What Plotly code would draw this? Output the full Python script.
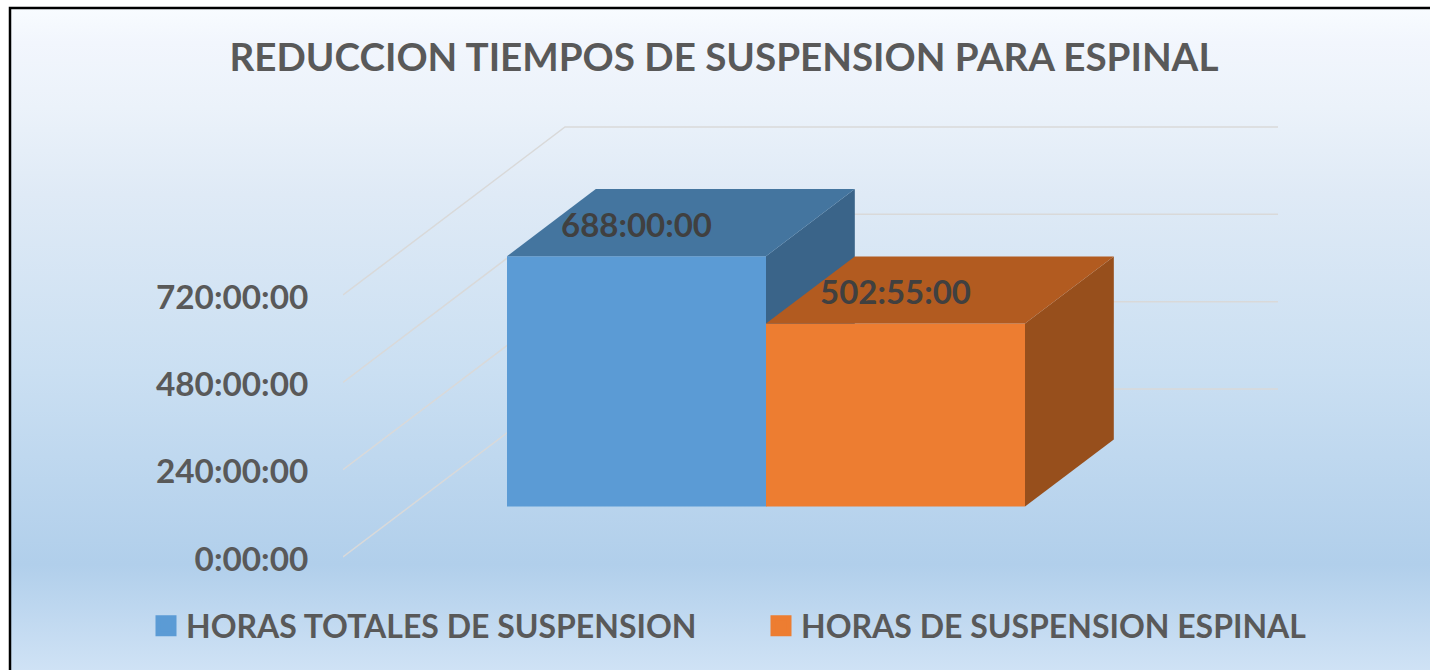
import plotly.graph_objects as go

TITLE = "REDUCCION TIEMPOS DE SUSPENSION PARA ESPINAL"
series_names = ["HORAS TOTALES DE SUSPENSION", "HORAS DE SUSPENSION ESPINAL"]
hours = [688.0, 502.9167]
value_labels = ["688:00:00", "502:55:00"]
tick_hours = [0, 240, 480, 720]
tick_labels = ["0:00:00", "240:00:00", "480:00:00", "720:00:00"]
front_colors = ["#5B9BD5", "#ED7D31"]
top_colors = ["#44759F", "#B25B20"]
side_colors = ["#3A6489", "#974F1C"]

W, H = 1430, 670
FONT = "Lato"
GREY = "#595959"

# plot-area geometry
L, R, T, B = 343, 1285, 120, 565
Y0_PX = 557
PX_PER_HOUR = 87.33 / 240
PX_PER_CAT = 259
X0_PX = 636.5
xr = [(L - X0_PX) / PX_PER_CAT, (R - X0_PX) / PX_PER_CAT]
yr = [(Y0_PX - B) / PX_PER_HOUR, (Y0_PX - T) / PX_PER_HOUR]
# oblique projection: full floor depth expressed in axis units
DEPTH_X = 222 / PX_PER_CAT
DEPTH_Y = 168 / PX_PER_HOUR
BAR_FRONT, BAR_BACK = 0.3, 0.7
WALL_X0 = xr[0]
WALL_X1 = xr[1] - 7 / PX_PER_CAT
LABEL_DROP = 6 / PX_PER_HOUR


def proj(x, v, d):
    """Oblique projection of (category position, hours, depth)."""
    return x + d * DEPTH_X, v + d * DEPTH_Y


fig = go.Figure()

# panel background, on a full-page axis pair
fig.add_trace(go.Scatter(
    x=[11, W, W, 11, 11], y=[0, 0, H - 9, H - 9, 0], xaxis="x", yaxis="y",
    mode="lines", line=dict(width=0), fill="toself", hoverinfo="skip", showlegend=False,
    fillgradient=dict(type="vertical", colorscale=[
        [0, "#CFE2F5"], [0.16, "#B1CFEB"], [0.45, "#CADFF2"],
        [0.72, "#DFEAF6"], [0.85, "#EBF2FA"], [0.95, "#F2F6FD"], [1, "#F8FCFF"]]),
))

# walls
for v in tick_hours:
    xs, ys = zip(proj(WALL_X0, v, 0), proj(WALL_X0, v, 1))
    xb, yb = proj(WALL_X1 - DEPTH_X, v, 1)
    fig.add_trace(go.Scatter(
        x=list(xs) + [xb], y=list(ys) + [yb], xaxis="x2", yaxis="y2", mode="lines",
        line=dict(color="#D9D9D9", width=1.5), hoverinfo="skip", showlegend=False,
    ))

# bars: each series on its own overlay, so the nearer bar hides the other's side
for i, (v, name) in enumerate(zip(hours, series_names)):
    xa, ya = f"x{i + 3}", f"y{i + 3}"
    base = proj(i, 0, BAR_FRONT)[1]
    fig.add_trace(go.Bar(
        x=[i], y=[v], base=[base], width=[1], xaxis=xa, yaxis=ya,
        marker=dict(color=front_colors[i], line=dict(width=0)), name=name, showlegend=False,
    ))
    x_l, x_r = i - 0.5, i + 0.5
    gap = BAR_BACK - BAR_FRONT
    dx, dy = gap * DEPTH_X, gap * DEPTH_Y
    fig.add_trace(go.Scatter(
        x=[x_r, x_r + dx, x_r + dx, x_r, x_r],
        y=[base, base + dy, base + v + dy, base + v, base],
        xaxis=xa, yaxis=ya, mode="lines", fill="toself", fillcolor=side_colors[i],
        line=dict(width=0), hoverinfo="skip", showlegend=False,
    ))
    fig.add_trace(go.Scatter(
        x=[x_l, x_r, x_r + dx, x_l + dx, x_l],
        y=[base + v, base + v, base + v + dy, base + v + dy, base + v],
        xaxis=xa, yaxis=ya, mode="lines", fill="toself", fillcolor=top_colors[i],
        line=dict(width=0), hoverinfo="skip", showlegend=False,
    ))

# data labels
for i, v in enumerate(hours):
    base = proj(i, 0, BAR_FRONT)[1]
    fig.add_trace(go.Scatter(
        x=[i], y=[base + v + 0.5 * (BAR_BACK - BAR_FRONT) * DEPTH_Y - LABEL_DROP],
        xaxis="x4", yaxis="y4", mode="text", text=[value_labels[i]],
        textposition="middle center", cliponaxis=False,
        textfont=dict(family=FONT, size=33, color="#404040", weight=700),
        hoverinfo="skip", showlegend=False,
    ))

# legend entries
for i, name in enumerate(series_names):
    fig.add_trace(go.Scatter(
        x=[None], y=[None], xaxis="x4", yaxis="y4", mode="markers", name=name,
        marker=dict(symbol="square", size=16, color=front_colors[i],
                    line=dict(color=front_colors[i], width=5)),
    ))

hidden = dict(visible=False, fixedrange=True)
dom_x = [L / W, R / W]
dom_y = [1 - B / H, 1 - T / H]
fig.update_layout(
    width=W, height=H, autosize=False,
    margin=dict(l=0, r=0, t=0, b=0, autoexpand=False),
    paper_bgcolor="white", plot_bgcolor="rgba(0,0,0,0)",
    barmode="overlay",
    font=dict(family=FONT, color=GREY),
    title=dict(text=TITLE, x=724 / W, xanchor="center", y=1 - 57 / H, yanchor="middle",
               font=dict(family=FONT, size=38.6, color=GREY, weight=700)),
    xaxis=dict(hidden, domain=[0, 1], range=[0, W]),
    yaxis=dict(hidden, domain=[0, 1], range=[0, H]),
    xaxis2=dict(hidden, domain=dom_x, range=xr, anchor="y2"),
    yaxis2=dict(domain=dom_y, range=yr, anchor="x2", fixedrange=True,
                tickmode="array", tickvals=tick_hours, ticktext=tick_labels,
                showgrid=False, zeroline=False, showline=False,
                ticks="outside", ticklen=27, tickcolor="rgba(0,0,0,0)", ticklabelshift=2,
                tickfont=dict(family=FONT, size=33.3, color=GREY, weight=700)),
    xaxis3=dict(hidden, overlaying="x2", range=xr, anchor="y3"),
    yaxis3=dict(hidden, overlaying="y2", range=yr, anchor="x3"),
    xaxis4=dict(hidden, overlaying="x2", range=xr, anchor="y4"),
    yaxis4=dict(hidden, overlaying="y2", range=yr, anchor="x4"),
    legend=dict(orientation="h", x=146 / W, xanchor="left", y=1 - 626 / H, yanchor="middle",
                entrywidth=570, entrywidthmode="pixels", bgcolor="rgba(0,0,0,0)",
                font=dict(family=FONT, size=32, color=GREY, weight=700)),
    shapes=[dict(type="path", xref="paper", yref="paper",
                 path=f"M {10/W},0 L {10/W},{1-8/H} L 1,{1-8/H}",
                 line=dict(color="black", width=2.5))],
)
fig.write_html("out.html", post_script="document.body.style.margin='0';",
               config={"displayModeBar": False})
